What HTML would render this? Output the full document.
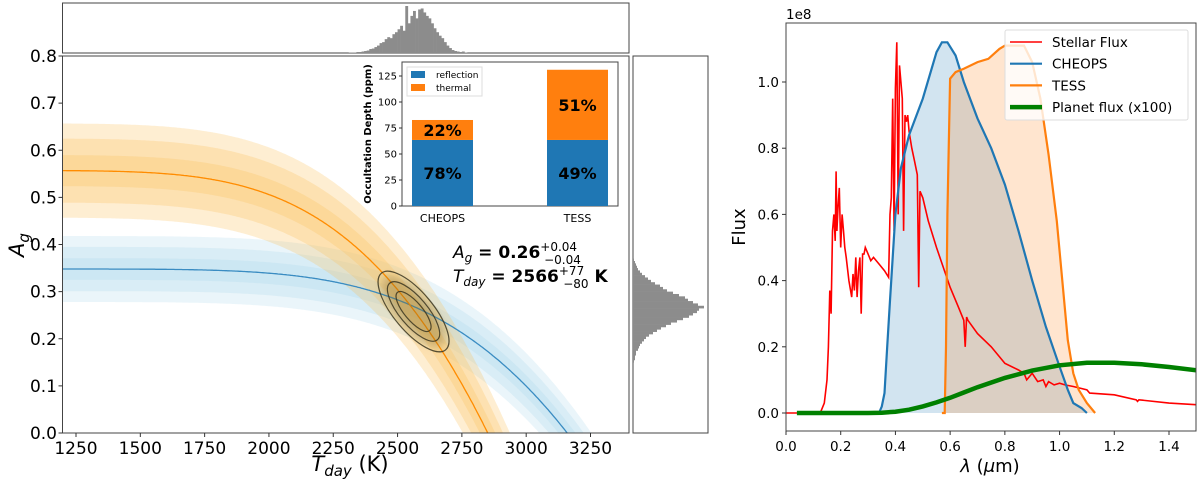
<!DOCTYPE html>
<html><head><meta charset="utf-8"><style>
html,body{margin:0;padding:0;background:#fff;width:1200px;height:485px;overflow:hidden;}
svg{display:block;font-family:"DejaVu Sans","Liberation Sans",sans-serif;overflow:hidden;}
</style></head><body>
<svg id="fig" width="1200" height="485" viewBox="0 0 1200 485" xmlns="http://www.w3.org/2000/svg">
<defs>
<clipPath id="clipMain"><rect x="62.5" y="56" width="566.5" height="377"/></clipPath>
<clipPath id="clipRight"><rect x="786" y="23" width="410" height="408"/></clipPath>
<filter id="blur"><feGaussianBlur stdDeviation="4"/></filter>
</defs>
<g id="main"></g>
<g id="right"></g>
</svg>
<script>
// ---------- LEFT PANEL DATA ----------
const xTicks = [1250,1500,1750,2000,2250,2500,2750,3000,3250];
const yTicks = [0.0,0.1,0.2,0.3,0.4,0.5,0.6,0.7,0.8];
// model curve params: [A0, k, x] with A = A0 - k/(exp(x/T)-1)
const cheopsModel = [0.348, 195, 20000];
const tessModel = [0.557, 152, 16000];
const cheopsBandOffsets = [0.07, 0.047, 0.023];
const tessBandOffsets = [0.1, 0.068, 0.033];
const bestFit = [2566, 0.26];
const topHistBins = [2310,2320,2330,2340,2350,2360,2370,2380,2390,2400,2410,2420,2430,2440,2450,2460,2470,2480,2490,2500,2510,2520,2530,2540,2550,2560,2570,2580,2590,2600,2610,2620,2630,2640,2650,2660,2670,2680,2690,2700,2710,2720,2730,2740,2750,2760];
const topHistCounts = [1,1,1,2,2,3,4,5,8,9,12,15,20,22,28,32,30,38,42,48,55,45,95,60,75,85,70,88,90,82,75,70,60,50,42,35,30,22,15,10,6,4,3,2,3,1];
const rightHistBins = [0.150,0.155,0.160,0.165,0.170,0.175,0.180,0.185,0.190,0.195,0.200,0.205,0.210,0.215,0.220,0.225,0.230,0.235,0.240,0.245,0.250,0.255,0.260,0.265,0.270,0.275,0.280,0.285,0.290,0.295,0.300,0.305,0.310,0.315,0.320,0.325,0.330,0.335,0.340,0.345,0.350,0.355,0.360,0.365];
const rightHistCounts = [1,2,2,3,3,5,6,7,9,11,13,16,20,24,28,33,38,44,50,56,60,64,66,71,65,60,55,52,46,40,34,30,27,22,18,15,12,9,7,5,4,3,2,1];
const insetCats = ["CHEOPS","TESS"];
const insetReflection = [63.5, 63.5];
const insetThermal = [19.2, 67.5];
const insetTicks = [0,25,50,75,100,125];
const insetReflPct = ["78%","49%"];
const insetThermPct = ["22%","51%"];

// ---------- RIGHT PANEL DATA ----------
const rxTicks = [0.0,0.2,0.4,0.6,0.8,1.0,1.2,1.4];
const ryTicks = [0.0,0.2,0.4,0.6,0.8,1.0];
const stellarLam = [0.0,0.125,0.13,0.14,0.15,0.155,0.16,0.165,0.17,0.175,0.18,0.183,0.186,0.19,0.195,0.2,0.205,0.21,0.215,0.22,0.23,0.24,0.245,0.25,0.255,0.26,0.265,0.27,0.275,0.28,0.285,0.29,0.3,0.31,0.32,0.34,0.36,0.375,0.38,0.385,0.39,0.395,0.4,0.405,0.41,0.415,0.42,0.425,0.43,0.435,0.44,0.445,0.45,0.46,0.47,0.48,0.485,0.49,0.5,0.52,0.55,0.6,0.63,0.65,0.655,0.66,0.665,0.7,0.75,0.8,0.85,0.87,0.88,0.9,0.92,0.94,0.95,0.96,0.98,1.0,1.02,1.05,1.1,1.11,1.2,1.28,1.285,1.29,1.4,1.5];
const stellarFlux = [0.0,0.0,0.01,0.03,0.1,0.2,0.37,0.3,0.55,0.6,0.52,0.73,0.55,0.62,0.68,0.5,0.6,0.55,0.5,0.47,0.4,0.35,0.42,0.37,0.47,0.35,0.43,0.47,0.3,0.48,0.48,0.5,0.48,0.46,0.47,0.45,0.43,0.41,0.6,0.65,0.95,0.55,0.98,1.12,0.6,1.05,1.0,0.95,0.55,0.9,0.88,0.9,0.85,0.8,0.76,0.72,0.38,0.67,0.65,0.58,0.5,0.38,0.32,0.28,0.2,0.29,0.28,0.24,0.2,0.15,0.13,0.12,0.1,0.12,0.095,0.1,0.08,0.095,0.085,0.09,0.085,0.08,0.07,0.06,0.055,0.04,0.035,0.04,0.03,0.025];
const cheopsLam = [0.34,0.35,0.36,0.37,0.38,0.4,0.42,0.45,0.5,0.55,0.57,0.59,0.62,0.65,0.7,0.75,0.8,0.85,0.9,0.95,1.0,1.03,1.05,1.08,1.1];
const cheopsFlux = [0.0,0.02,0.06,0.2,0.34,0.6,0.74,0.84,0.95,1.09,1.12,1.12,1.08,1.0,0.89,0.8,0.69,0.55,0.4,0.26,0.14,0.07,0.03,0.015,0.0];
const tessLam = [0.57,0.58,0.585,0.59,0.6,0.62,0.65,0.7,0.74,0.78,0.8,0.83,0.87,0.9,0.93,0.96,0.99,1.01,1.03,1.05,1.07,1.1,1.13];
const tessFlux = [0.0,0.0,0.2,0.6,1.01,1.03,1.04,1.06,1.07,1.1,1.11,1.11,1.11,1.06,0.95,0.78,0.58,0.4,0.22,0.12,0.07,0.03,0.0];
const planetLam = [0.04,0.3,0.35,0.4,0.45,0.5,0.55,0.6,0.65,0.7,0.8,0.9,1.0,1.1,1.2,1.3,1.4,1.5];
const planetFlux = [0.0,0.0,0.001,0.004,0.01,0.02,0.032,0.046,0.062,0.078,0.106,0.128,0.144,0.152,0.152,0.147,0.139,0.129];

const NS='http://www.w3.org/2000/svg';
function mk(parent,tag,attrs,text){const e=document.createElementNS(NS,tag);for(const k in attrs)e.setAttribute(k,attrs[k]);if(text!==undefined)e.textContent=text;parent.appendChild(e);return e;}

// ---------- LEFT ----------
const main=document.getElementById('main');
const L={x0:62.5,x1:629,y0:56,y1:433};
const xs=t=>76+(t-1250)*(514.5/2000);
const ys=a=>433-a*(377/0.8);
function model(p,T,off){return p[0]+off-p[1]/(Math.exp(p[2]/T)-1);}
const clipG=mk(main,'g',{'clip-path':'url(#clipMain)'});


function band(p,off,color,op,name){
  let up=[],dn=[];
  for(let T=1190;T<=3420;T+=5){up.push(xs(T).toFixed(1)+','+ys(model(p,T,off)).toFixed(1));dn.unshift(xs(T).toFixed(1)+','+ys(model(p,T,-off)).toFixed(1));}
  const e=mk(clipG,'polygon',{points:up.concat(dn).join(' '),fill:color,'fill-opacity':op});
  
  
}
function line(p,color,name){
  let pts=[];for(let T=1190;T<=3420;T+=5)pts.push(xs(T).toFixed(1)+','+ys(model(p,T,0)).toFixed(1));
  const e=mk(clipG,'polyline',{points:pts.join(' '),fill:'none',stroke:color,'stroke-width':1.3});
  
  
}
cheopsBandOffsets.forEach((o,i)=>band(cheopsModel,o,'#9fd3ea',0.22,'cheops-band-'+(i+1)));
tessBandOffsets.forEach((o,i)=>band(tessModel,o,'#fbbf5a',0.27,'tess-band-'+(i+1)));
line(cheopsModel,'#3a8cc2','cheops-model-curve');
line(tessModel,'#ff8c00','tess-model-curve');
// ellipses
const cx=xs(bestFit[0]),cy=ys(bestFit[1]);
const eg=mk(clipG,'g',{transform:`translate(${cx-1},${cy+1}) rotate(50)`});


mk(eg,'ellipse',{cx:0,cy:0,rx:44,ry:17,fill:'#8a6a1e','fill-opacity':0.35,filter:'url(#blur)'});
[[50,19.5],[37,14],[25,9]].forEach((r,i)=>{const e=mk(eg,'ellipse',{cx:0,cy:0,rx:r[0],ry:r[1],fill:'none',stroke:'#3a3520','stroke-width':1.2,'stroke-opacity':0.85});});
// frame
const fr=mk(main,'rect',{x:L.x0,y:L.y0,width:L.x1-L.x0,height:L.y1-L.y0,fill:'none',stroke:'#444','stroke-width':1});

xTicks.forEach(t=>{mk(main,'line',{x1:xs(t),x2:xs(t),y1:433,y2:437,stroke:'#333'});const e=mk(main,'text',{x:xs(t),y:454,'font-size':17,'text-anchor':'middle',fill:'#000'},String(t));});
yTicks.forEach(t=>{mk(main,'line',{x1:58.5,x2:62.5,y1:ys(t),y2:ys(t),stroke:'#333'});const e=mk(main,'text',{x:57,y:ys(t)+6,'font-size':17,'text-anchor':'end',fill:'#000'},t.toFixed(1));});
let t1=mk(main,'text',{x:350,y:471,'font-size':21,'text-anchor':'middle'});

t1.innerHTML='<tspan font-style="italic">T</tspan><tspan font-style="italic" font-size="15" dy="5">day</tspan><tspan dy="-5"> (K)</tspan>';
let t2=mk(main,'text',{transform:'translate(24,245) rotate(-90)','font-size':21,'text-anchor':'middle'});

t2.innerHTML='<tspan font-style="italic">A</tspan><tspan font-style="italic" font-size="15" dy="5">g</tspan>';
// annotation
let a1=mk(main,'text',{x:453,y:258,'font-size':17});

a1.innerHTML='<tspan font-style="italic">A</tspan><tspan font-style="italic" font-size="12" dy="4">g</tspan><tspan dy="-4" font-weight="bold"> = 0.26</tspan><tspan font-size="12" dy="-7">+0.04</tspan><tspan font-size="12" dx="-33" dy="13">−0.04</tspan>';
let a2=mk(main,'text',{x:453,y:282,'font-size':17});

a2.innerHTML='<tspan font-style="italic">T</tspan><tspan font-style="italic" font-size="12" dy="4">day</tspan><tspan dy="-4" font-weight="bold"> = 2566</tspan><tspan font-size="12" dy="-7">+77</tspan><tspan font-size="12" dx="-21" dy="13">−80</tspan><tspan font-weight="bold" dy="-6"> K</tspan>';
// top hist
const th=mk(main,'g',{});
mk(th,'rect',{x:62.5,y:3,width:566.5,height:50,fill:'none',stroke:'#444'});
const thMax=Math.max(...topHistCounts);
topHistBins.forEach((b,i)=>{const h=topHistCounts[i]/thMax*47;const e=mk(th,'rect',{x:xs(b),y:53-h,width:xs(b+10)-xs(b)+0.3,height:h,fill:'#8c8c8c'});});
// right hist
const rh=mk(main,'g',{});
mk(rh,'rect',{x:633,y:56,width:75,height:377,fill:'none',stroke:'#444'});
const rhMax=Math.max(...rightHistCounts);
rightHistBins.forEach((b,i)=>{const w=rightHistCounts[i]/rhMax*71;const e=mk(rh,'rect',{x:633,y:ys(b+0.005),width:w,height:ys(b)-ys(b+0.005)+0.3,fill:'#8c8c8c'});});
// inset
const ins=mk(main,'g',{});
const I={x0:402,x1:618,y0:62,y1:206};
mk(ins,'rect',{x:I.x0,y:I.y0,width:I.x1-I.x0,height:I.y1-I.y0,fill:'#fff',stroke:'#444'});
const iy=v=>206-v*(130/125);
const barX=[412,547],barW=61;
insetTicks.forEach(t=>{mk(ins,'line',{x1:I.x0-3,x2:I.x0,y1:iy(t),y2:iy(t),stroke:'#333'});const e=mk(ins,'text',{x:I.x0-5,y:iy(t)+3.5,'font-size':10,'text-anchor':'end'},String(t));});
insetCats.forEach((c,i)=>{
  const r=mk(ins,'rect',{x:barX[i],y:iy(insetReflection[i]),width:barW,height:iy(0)-iy(insetReflection[i]),fill:'#1f77b4'});
  const tt=insetReflection[i]+insetThermal[i];
  const r2=mk(ins,'rect',{x:barX[i],y:iy(tt),width:barW,height:iy(insetReflection[i])-iy(tt),fill:'#ff7f0e'});
  const l1=mk(ins,'text',{x:barX[i]+barW/2,y:(iy(0)+iy(insetReflection[i]))/2+6,'font-size':16,'font-weight':'bold','text-anchor':'middle'},insetReflPct[i]);
  const l2=mk(ins,'text',{x:barX[i]+barW/2,y:(iy(insetReflection[i])+iy(tt))/2+6,'font-size':16,'font-weight':'bold','text-anchor':'middle'},insetThermPct[i]);
  const l3=mk(ins,'text',{x:barX[i]+barW/2,y:222,'font-size':11,'text-anchor':'middle'},c);
});
const iyl=mk(ins,'text',{transform:'translate(371,134) rotate(-90)','font-size':10,'font-weight':'bold','text-anchor':'middle'},'Occultation Depth (ppm)');

const lg=mk(ins,'g',{});
mk(lg,'rect',{x:407,y:67,width:75,height:29,fill:'#fff',stroke:'#ddd'});
mk(lg,'rect',{x:411,y:71,width:14,height:7,fill:'#1f77b4'});
mk(lg,'text',{x:436,y:78,'font-size':9},'reflection');
mk(lg,'rect',{x:411,y:84,width:14,height:7,fill:'#ff7f0e'});
mk(lg,'text',{x:436,y:91,'font-size':9},'thermal');

// ---------- RIGHT ----------
const right=document.getElementById('right');
const rx=l=>786+l*(383/1.4);
const ry=f=>413-f*331;
const rc=mk(right,'g',{'clip-path':'url(#clipRight)'});
function pts(X,Y){return X.map((x,i)=>rx(x).toFixed(1)+','+ry(Y[i]).toFixed(1)).join(' ');}
let f1=mk(rc,'polygon',{points:pts(cheopsLam,cheopsFlux)+' '+rx(cheopsLam[cheopsLam.length-1])+','+ry(0)+' '+rx(cheopsLam[0])+','+ry(0),fill:'#1f77b4','fill-opacity':0.2});

let f2=mk(rc,'polygon',{points:pts(tessLam,tessFlux)+' '+rx(tessLam[tessLam.length-1])+','+ry(0)+' '+rx(tessLam[0])+','+ry(0),fill:'#ff7f0e','fill-opacity':0.2});

let s1=mk(rc,'polyline',{points:pts(stellarLam,stellarFlux),fill:'none',stroke:'#ff0000','stroke-width':1.6});

let s2=mk(rc,'polyline',{points:pts(cheopsLam,cheopsFlux),fill:'none',stroke:'#1f77b4','stroke-width':2.2});

let s3=mk(rc,'polyline',{points:pts(tessLam,tessFlux),fill:'none',stroke:'#ff7f0e','stroke-width':2.2});

let s4=mk(rc,'polyline',{points:pts(planetLam,planetFlux),fill:'none',stroke:'#008000','stroke-width':4.5});

const rf=mk(right,'rect',{x:786,y:23,width:410,height:408,fill:'none',stroke:'#444'});

rxTicks.forEach(t=>{mk(right,'line',{x1:rx(t),x2:rx(t),y1:431,y2:435,stroke:'#333'});const e=mk(right,'text',{x:rx(t),y:451,'font-size':13.5,'text-anchor':'middle'},t.toFixed(1));});
ryTicks.forEach(t=>{mk(right,'line',{x1:782,x2:786,y1:ry(t),y2:ry(t),stroke:'#333'});const e=mk(right,'text',{x:779,y:ry(t)+5,'font-size':13.5,'text-anchor':'end'},t.toFixed(1));});
let ex=mk(right,'text',{x:786,y:19,'font-size':13.5},'1e8');
let rxl=mk(right,'text',{x:990,y:472,'font-size':18,'text-anchor':'middle'});
rxl.innerHTML='<tspan font-style="italic">λ</tspan> (<tspan font-style="italic">μ</tspan>m)';
let ryl=mk(right,'text',{transform:'translate(745,227) rotate(-90)','font-size':18,'text-anchor':'middle'},'Flux');
const leg=mk(right,'g',{});
mk(leg,'rect',{x:1005,y:30,width:183,height:90,fill:'#fff','fill-opacity':0.8,stroke:'#ddd',rx:2});
const legItems=[['Stellar Flux','#ff0000',1.6],['CHEOPS','#1f77b4',2.2],['TESS','#ff7f0e',2.2],['Planet flux (x100)','#008000',4.5]];
legItems.forEach((it,i)=>{const y=42+i*21.7;mk(leg,'line',{x1:1010,x2:1042,y1:y,y2:y,stroke:it[1],'stroke-width':it[2]});const e=mk(leg,'text',{x:1052,y:y+5,'font-size':13.5},it[0]);});
</script>
</body></html>
